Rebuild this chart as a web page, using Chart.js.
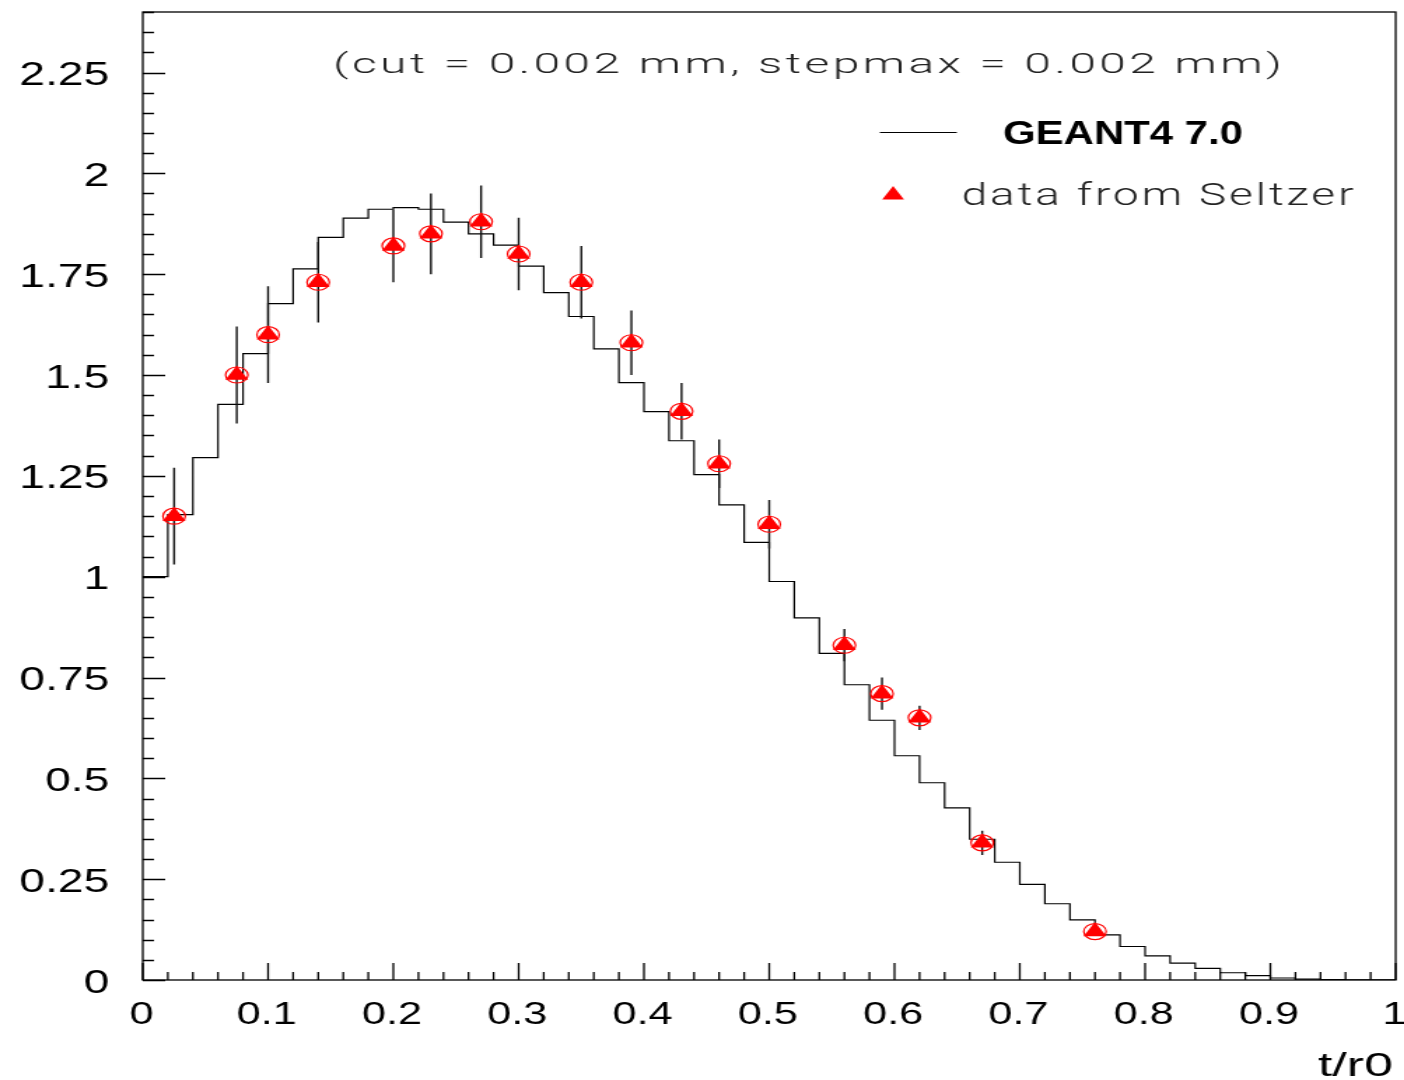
<!DOCTYPE html>
<html>
<head>
<meta charset="utf-8">
<title>Energy deposition profile</title>
<script src="https://cdn.jsdelivr.net/npm/chart.js@4/dist/chart.umd.min.js"></script>
<style>
  html, body { margin: 0; padding: 0; background: #fff; }
  #wrap { width: 1404px; height: 1080px; overflow: hidden; }
  /* the plot is drawn narrow and stretched sideways, like the old ROOT export */
  #plot { width: 1003px; height: 1080px; transform: scaleX(1.39985); transform-origin: 0 0; display: block; }
</style>
</head>
<body>
<div id="wrap"><canvas id="plot" width="1003" height="1080"></canvas></div>
<script>
// GEANT4 histogram: 50 bins of 0.02 in t/r0
const binWidth = 0.02;
const histValues = [
  1.000, 1.154, 1.295, 1.427, 1.553, 1.677, 1.763, 1.841, 1.889, 1.911,
  1.915, 1.911, 1.879, 1.850, 1.822, 1.770, 1.704, 1.645, 1.565, 1.481,
  1.409, 1.337, 1.253, 1.178, 1.085, 0.988, 0.898, 0.810, 0.732, 0.644,
  0.556, 0.489, 0.427, 0.349, 0.292, 0.237, 0.189, 0.149, 0.112, 0.083,
  0.060, 0.042, 0.029, 0.018, 0.011, 0.005, 0.002, 0.001, 0.0006, 0.0003
];

// Seltzer reference points
const seltzerX = [0.025, 0.075, 0.10, 0.14, 0.20, 0.23, 0.27, 0.30, 0.35, 0.39, 0.43, 0.46, 0.50, 0.56, 0.59, 0.62, 0.67, 0.76];
const seltzerY = [1.15, 1.50, 1.60, 1.73, 1.82, 1.85, 1.88, 1.80, 1.73, 1.58, 1.41, 1.28, 1.13, 0.83, 0.71, 0.65, 0.34, 0.12];
const seltzerErr = [0.12, 0.12, 0.12, 0.10, 0.09, 0.10, 0.09, 0.09, 0.09, 0.08, 0.07, 0.06, 0.06, 0.04, 0.04, 0.03, 0.03, 0.01];

// axis labels
const xTicks = [0, 0.1, 0.2, 0.3, 0.4, 0.5, 0.6, 0.7, 0.8, 0.9, 1];
const yTicks = [0, 0.25, 0.5, 0.75, 1, 1.25, 1.5, 1.75, 2, 2.25];
const xTitle = 't/r0';
const plotTitle = '(cut = 0.002 mm, stepmax = 0.002 mm)';

// step line: value i held from its lower edge, plus a closing point at x = 1
const histPoints = histValues.map((v, i) => ({ x: +(i * binWidth).toFixed(2), y: v }));
histPoints.push({ x: 1, y: histValues[histValues.length - 1] });

const markerPoints = seltzerX.map((x, i) => ({ x: x, y: seltzerY[i] }));

// vertical error bars as separate segments broken by nulls
const errPoints = [];
seltzerX.forEach((x, i) => {
  errPoints.push({ x: x, y: seltzerY[i] - seltzerErr[i] });
  errPoints.push({ x: x, y: seltzerY[i] + seltzerErr[i] });
  errPoints.push({ x: x, y: null });
});

const RED = '#ff0000';
const LABEL_FONT = '"Liberation Sans", Arial, sans-serif';
const THIN_FONT = 'Roboto, "Open Sans", sans-serif';

// draw text squeezed/stretched into a given width
function fitText(ctx, text, x, y, w) {
  const m = ctx.measureText(text).width;
  ctx.save();
  ctx.translate(x, y);
  ctx.scale(w / m, 1);
  ctx.textAlign = 'left';
  ctx.fillText(text, 0, 0);
  ctx.restore();
}

function triangle(ctx, cx, cy, r) {
  ctx.beginPath();
  for (let k = 0; k < 3; k++) {
    const a = k * 2 * Math.PI / 3;
    const px = cx + Math.sin(a) * r, py = cy - Math.cos(a) * r;
    k === 0 ? ctx.moveTo(px, py) : ctx.lineTo(px, py);
  }
  ctx.closePath();
  ctx.fill();
}

// frame, inward ticks, labels and legend in ROOT style
const rootFrame = {
  id: 'rootFrame',
  afterDraw(chart) {
    const { ctx, chartArea: a, scales: { x, y } } = chart;
    ctx.save();
    ctx.strokeStyle = '#000';
    ctx.lineWidth = 1.3;
    ctx.strokeRect(a.left, a.top, a.right - a.left, a.bottom - a.top);

    ctx.beginPath();
    for (let i = 0; i <= 48; i++) {
      const py = Math.round(y.getPixelForValue(i * 0.05)) + 0.5;
      ctx.moveTo(a.left, py);
      ctx.lineTo(a.left + (i % 5 === 0 ? 16 : 8), py);
    }
    for (let i = 0; i <= 50; i++) {
      const px = x.getPixelForValue(i * binWidth);
      ctx.moveTo(px, a.bottom);
      ctx.lineTo(px, a.bottom - (i % 5 === 0 ? 17 : 8));
    }
    ctx.stroke();

    ctx.fillStyle = '#000';
    ctx.font = '33px ' + LABEL_FONT;
    ctx.textAlign = 'right';
    ctx.textBaseline = 'alphabetic';
    yTicks.forEach(v => ctx.fillText(String(v), 78, y.getPixelForValue(v) + 12.5));

    ctx.font = '31px ' + LABEL_FONT;
    ctx.textAlign = 'center';
    xTicks.forEach(v => ctx.fillText(String(v), x.getPixelForValue(v) - 1, a.bottom + 44));

    ctx.font = '34px ' + LABEL_FONT;
    fitText(ctx, xTitle, 941.5, 1076, 53.5);

    // title, thin and widely spaced
    ctx.fillStyle = '#222';
    ctx.letterSpacing = '2px';
    ctx.font = '300 27px ' + THIN_FONT;
    fitText(ctx, plotTitle, 238, 72.5, 680);

    // legend
    const ds = chart.data.datasets;
    ctx.letterSpacing = '0px';
    ctx.lineWidth = 1.2;
    ctx.beginPath();
    ctx.moveTo(628.5, 132.5);
    ctx.lineTo(683.5, 132.5);
    ctx.stroke();
    ctx.fillStyle = '#000';
    ctx.font = 'bold 33px ' + LABEL_FONT;
    fitText(ctx, ds[3].label, 716.5, 144.3, 171.5);

    ctx.fillStyle = RED;
    triangle(ctx, 638, 195, 9);
    ctx.fillStyle = '#222';
    ctx.letterSpacing = '2px';
    ctx.font = '300 31px ' + THIN_FONT;
    fitText(ctx, ds[0].label, 687, 205, 282);
    ctx.restore();
  }
};

new Chart(document.getElementById('plot'), {
  type: 'scatter',
  data: {
    datasets: [
      {
        label: 'data from Seltzer',
        data: markerPoints,
        pointStyle: 'triangle',
        radius: 9.5,
        backgroundColor: RED,
        borderColor: RED,
        borderWidth: 0,
      },
      {
        label: 'Seltzer outline',
        data: markerPoints,
        pointStyle: 'circle',
        radius: 8,
        backgroundColor: 'rgba(0,0,0,0)',
        borderColor: RED,
        borderWidth: 1.2,
      },
      {
        type: 'line',
        label: 'errors',
        data: errPoints,
        borderColor: '#111',
        borderWidth: 1.4,
        pointRadius: 0,
        spanGaps: false,
        fill: false,
      },
      {
        type: 'line',
        label: 'GEANT4 7.0',
        data: histPoints,
        stepped: true,
        borderColor: '#000',
        borderWidth: 1.2,
        pointRadius: 0,
        fill: false,
      },
    ],
  },
  options: {
    responsive: false,
    animation: false,
    devicePixelRatio: 1,
    layout: { autoPadding: false, padding: { left: 102, top: 12, right: 6, bottom: 100 } },
    scales: {
      x: { type: 'linear', min: 0, max: 1, display: false },
      y: { type: 'linear', min: 0, max: 2.4, display: false },
    },
    plugins: {
      legend: { display: false },
      tooltip: { enabled: false },
    },
  },
  plugins: [rootFrame],
});
</script>
</body>
</html>
